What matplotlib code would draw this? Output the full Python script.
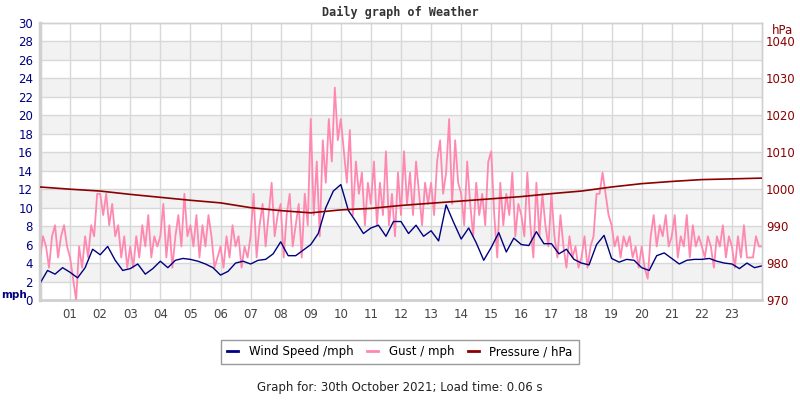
import numpy as np
import matplotlib
matplotlib.use("Agg")
import matplotlib.pyplot as plt

# wind speed, mph, every 15 minutes from 00:00 to 24:00
wind = [1.8, 3.2, 2.8, 3.5, 3.0, 2.4, 3.5, 5.5, 4.9, 5.8, 4.3, 3.2,
        3.4, 3.9, 2.8, 3.4, 4.2, 3.5, 4.3, 4.5, 4.4, 4.2, 3.9, 3.5,
        2.7, 3.1, 4.0, 4.2, 3.9, 4.3, 4.4, 5.0, 6.3, 4.8, 4.8, 5.4,
        6.0, 7.2, 10.0, 11.8, 12.5, 9.7, 8.5, 7.2, 7.8, 8.1, 6.9, 8.5,
        8.5, 7.2, 8.1, 6.9, 7.5, 6.4, 10.3, 8.4, 6.6, 7.8, 6.2, 4.3,
        5.7, 7.3, 5.2, 6.7, 6.0, 5.9, 7.4, 6.1, 6.1, 5.0, 5.5, 4.4,
        4.0, 3.8, 6.0, 7.0, 4.5, 4.1, 4.4, 4.3, 3.5, 3.2, 4.8, 5.1,
        4.5, 3.9, 4.3, 4.4, 4.4, 4.5, 4.2, 4.0, 3.9, 3.4, 4.0, 3.5, 3.7]

# gust, mph, every 6 minutes (10 per hour)
gust = [4.6, 6.9, 5.8, 3.5, 6.9, 8.1, 4.6, 6.9, 8.1, 5.8,
        4.6, 2.3, 0.0, 5.8, 3.5, 6.9, 4.6, 8.1, 6.9, 11.5,
        11.5, 9.2, 11.5, 8.1, 10.4, 6.9, 8.1, 4.6, 6.9, 3.5,
        5.8, 3.5, 6.9, 4.6, 8.1, 5.8, 9.2, 4.6, 6.9, 5.8,
        6.9, 10.4, 4.6, 8.1, 3.5, 6.9, 9.2, 5.8, 11.5, 6.9,
        8.1, 5.8, 9.2, 4.6, 8.1, 5.8, 9.2, 6.9, 3.5, 4.6,
        5.8, 3.5, 6.9, 4.6, 8.1, 5.8, 6.9, 3.5, 5.8, 4.6,
        6.9, 11.5, 4.6, 8.1, 10.4, 5.8, 9.2, 12.7, 6.9, 9.2,
        10.4, 4.6, 9.2, 11.5, 5.8, 8.1, 10.4, 4.6, 11.5, 8.1,
        19.6, 9.2, 15.0, 6.9, 17.3, 12.7, 19.6, 15.0, 23.0, 17.3,
        19.6, 16.1, 12.7, 18.4, 9.2, 15.0, 11.5, 13.8, 8.1, 12.7,
        10.4, 15.0, 8.1, 12.7, 9.2, 16.1, 8.1, 11.5, 6.9, 13.8,
        9.2, 16.1, 10.4, 13.8, 9.2, 15.0, 11.5, 8.1, 12.7, 10.4,
        12.7, 9.2, 15.0, 17.3, 11.5, 13.8, 19.6, 10.4, 17.3, 12.7,
        11.5, 8.1, 15.0, 10.4, 6.9, 12.7, 9.2, 11.5, 8.1, 15.0,
        16.1, 9.2, 4.6, 12.7, 8.1, 11.5, 9.2, 13.8, 6.9, 10.4,
        9.2, 6.9, 13.8, 8.1, 4.6, 12.7, 6.9, 11.5, 8.1, 5.8,
        11.5, 6.9, 4.6, 9.2, 5.8, 3.5, 6.9, 4.6, 5.8, 3.5,
        4.6, 6.9, 3.5, 5.8, 6.9, 11.5, 11.5, 13.8, 11.5, 9.2,
        8.1, 5.8, 6.9, 4.6, 6.9, 5.8, 6.9, 4.6, 5.8, 3.5,
        5.8, 3.5, 2.3, 6.9, 9.2, 5.8, 8.1, 6.9, 9.2, 5.8,
        6.9, 9.2, 4.6, 6.9, 5.8, 9.2, 4.6, 8.1, 5.8, 6.9,
        5.8, 4.6, 6.9, 5.8, 3.5, 6.9, 5.8, 8.1, 4.6, 6.9,
        5.8, 3.5, 6.9, 4.6, 8.1, 4.6, 4.6, 4.6, 6.9, 5.8, 5.8]

# pressure, hPa, hourly
pressure = [1000.6, 1000.0, 999.5, 998.6, 997.8, 997.0, 996.3, 995.0, 994.2,
            993.6, 994.4, 994.8, 995.6, 996.2, 996.8, 997.4, 998.0, 998.8,
            999.5, 1000.6, 1001.5, 1002.1, 1002.6, 1002.8, 1003.0]

hour_labels = ["%02d" % h for h in range(1, 24)]

t_wind = np.linspace(0, 24, len(wind))
t_gust = np.linspace(0, 24, len(gust))
t_pres = np.linspace(0, 24, len(pressure))

fig = plt.figure(figsize=(8, 4), dpi=100)
ax = fig.add_axes([0.05, 0.25, 0.9025, 0.6925])
ax2 = ax.twinx()

# alternating background bands
for y0 in range(2, 30, 4):
    ax.axhspan(y0, y0 + 2, color="#f2f2f2", zorder=0, lw=0)
for y in range(2, 30, 2):
    ax.axhline(y, color="#d8d8d8", lw=1, zorder=1)
for h in range(1, 24):
    ax.axvline(h, color="#d8d8d8", lw=1, zorder=1)

ax.plot(t_gust, gust, color="#ff88b0", lw=1.3, zorder=3)
ax.plot(t_wind, wind, color="#000080", lw=1, zorder=4)
ax2.plot(t_pres, pressure, color="#8b0000", lw=1.2, zorder=5)

ax.set_xlim(0, 24)
ax.set_ylim(0, 30)
ax2.set_ylim(970, 1045)
ax.set_yticks(range(0, 31, 2))
ax2.set_yticks(range(970, 1041, 10))
ax.set_xticks(range(1, 24))
ax.set_xticklabels(hour_labels)

ax.tick_params(axis="y", length=0, pad=5, labelsize=8.5, labelcolor="#000080")
ax.tick_params(axis="x", length=0, pad=6, labelsize=8.5, labelcolor="#444444")
ax2.tick_params(axis="y", length=0, pad=3, labelsize=8.5, labelcolor="#8b0000")

for a in (ax, ax2):
    for s in a.spines.values():
        s.set_color("#d0d0d0")
        s.set_linewidth(1)
ax.spines["left"].set_linewidth(2.5)
ax.spines["bottom"].set_linewidth(2)

fig.text(0.5, 0.968, "Daily graph of Weather", ha="center", va="center",
         family="DejaVu Sans Mono", weight="bold", fontsize=8.5, color="#333333")
fig.text(0.002, 0.262, "mph", ha="left", va="center", weight="bold",
         fontsize=7.5, color="#000080")
fig.text(0.978, 0.925, "hPa", ha="center", va="center",
         fontsize=8.5, color="#8b0000")

handles = [plt.Line2D([], [], color="#000080", lw=2),
           plt.Line2D([], [], color="#ff88b0", lw=2),
           plt.Line2D([], [], color="#8b0000", lw=2)]
leg = fig.legend(handles, ["Wind Speed /mph", "Gust / mph", "Pressure / hPa"],
                 loc="center", bbox_to_anchor=(0.5, 0.12), ncol=3,
                 fontsize=8.5, handlelength=0.9, handletextpad=0.9,
                 columnspacing=1.2, frameon=True, fancybox=False,
                 borderpad=0.5)
leg.get_frame().set_edgecolor("#808080")
leg.get_frame().set_linewidth(1)

fig.text(0.5, 0.03, "Graph for: 30th October 2021; Load time: 0.06 s",
         ha="center", va="center", fontsize=8.5, color="#222222")

fig.savefig("out.png", dpi=100)
